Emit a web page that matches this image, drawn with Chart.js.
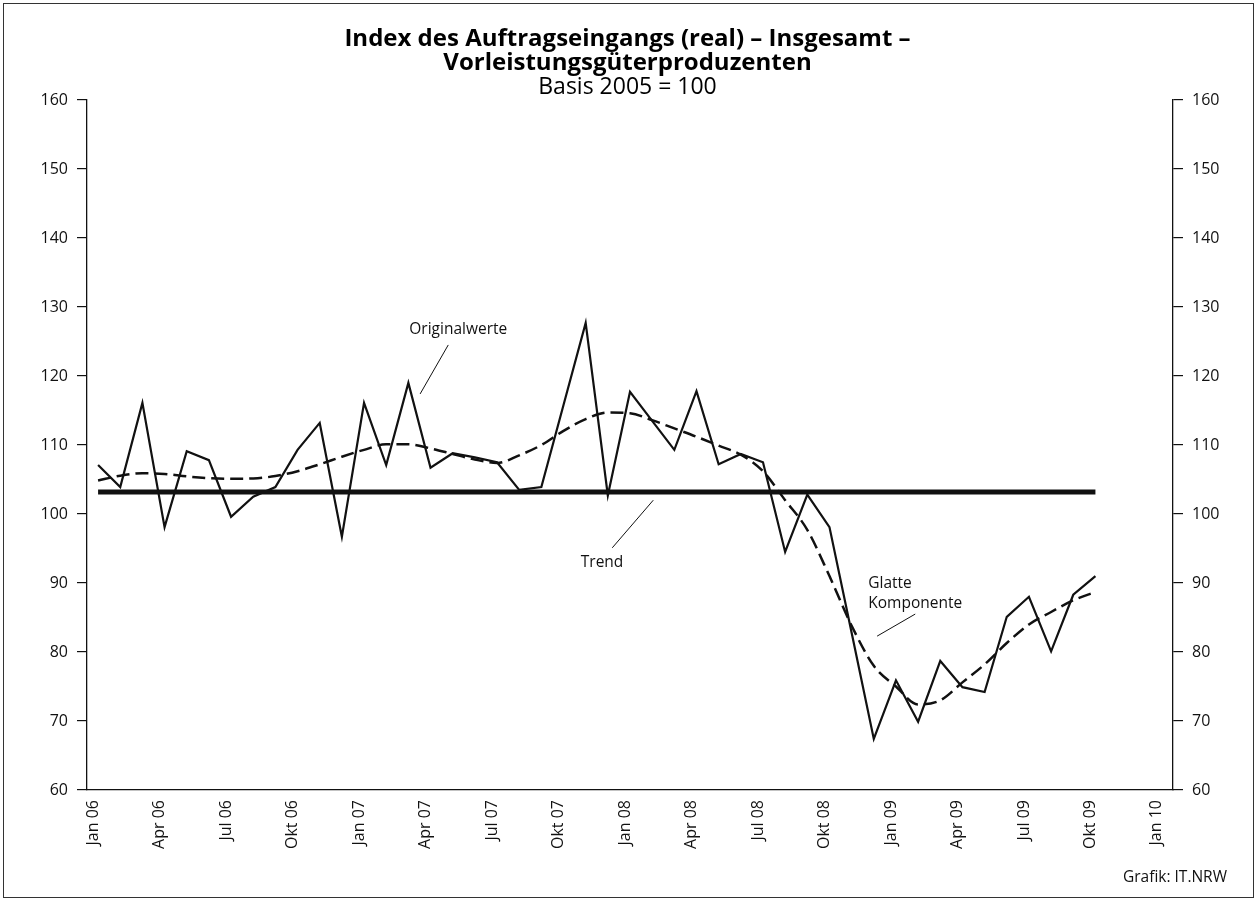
<!DOCTYPE html>
<html><head><meta charset="utf-8">
<script src="https://cdn.jsdelivr.net/npm/chart.js@4.4.1/dist/chart.umd.min.js"></script>
<style>
html,body{margin:0;padding:0;background:#fff;}
#wrap{position:relative;width:1255px;height:899px;overflow:hidden}
#frame{position:absolute;left:3px;top:3px;width:1251px;height:895px;border:1.5px solid #333;box-sizing:border-box;pointer-events:none}
canvas{position:absolute;left:0;top:0}
</style></head>
<body><div id="wrap"><canvas id="c" width="1255" height="899"></canvas><div id="frame"></div></div>
<script>
// ---- data ----
const categories = [
 'Jan 06','Feb 06','Mrz 06','Apr 06','Mai 06','Jun 06','Jul 06','Aug 06','Sep 06','Okt 06','Nov 06','Dez 06',
 'Jan 07','Feb 07','Mrz 07','Apr 07','Mai 07','Jun 07','Jul 07','Aug 07','Sep 07','Okt 07','Nov 07','Dez 07',
 'Jan 08','Feb 08','Mrz 08','Apr 08','Mai 08','Jun 08','Jul 08','Aug 08','Sep 08','Okt 08','Nov 08','Dez 08',
 'Jan 09','Feb 09','Mrz 09','Apr 09','Mai 09','Jun 09','Jul 09','Aug 09','Sep 09','Okt 09','Nov 09','Dez 09',
 'Jan 10'];
const tickLabels = ['Jan 06','Apr 06','Jul 06','Okt 06','Jan 07','Apr 07','Jul 07','Okt 07','Jan 08','Apr 08','Jul 08','Okt 08','Jan 09','Apr 09','Jul 09','Okt 09','Jan 10'];
const originalwerte = [107.1,103.9,116.1,98.1,109.1,107.8,99.6,102.5,103.9,109.3,113.2,96.7,
 116.1,107.1,119.0,106.7,108.8,108.2,107.5,103.5,103.9,115.8,127.7,102.7,
 117.7,113.5,109.3,117.8,107.2,108.7,107.5,94.5,102.8,98.1,82.8,67.4,
 75.9,69.9,78.7,74.9,74.2,85.1,88.0,80.1,88.3,91.0];
const glatteKomponente = [104.85,105.55,105.9,105.8,105.45,105.2,105.1,105.15,105.5,106.2,107.2,108.3,
 109.3,110.1,110.1,109.5,108.7,107.9,107.4,108.5,110.0,112.05,113.75,114.7,
 114.6,113.6,112.4,111.2,109.9,108.6,106.2,102.0,97.7,91.0,83.8,78.0,
 75.0,72.4,73.0,75.6,78.2,81.3,84.0,85.8,87.5,88.7];
const trend = [103.2,103.2,103.2,103.2,103.2,103.2,103.2,103.2,103.2,103.2,103.2,103.2,
 103.2,103.2,103.2,103.2,103.2,103.2,103.2,103.2,103.2,103.2,103.2,103.2,
 103.2,103.2,103.2,103.2,103.2,103.2,103.2,103.2,103.2,103.2,103.2,103.2,
 103.2,103.2,103.2,103.2,103.2,103.2,103.2,103.2,103.2,103.2];
const yTicks = [60,70,80,90,100,110,120,130,140,150,160];

const FONT = "'Open Sans', 'DejaVu Sans', sans-serif";
const INK = '#111';

// annotation labels (positions in data units: category index / index value)
const notes = [
  {lines:['Originalwerte'], x:16.25, y:126.7, align:'center', leader:[15.8,124.5,14.53,117.4]},
  {lines:['Trend'], x:22.74, y:92.9, align:'center', leader:[25.05,102.0,23.2,95.1]},
  {lines:['Glatte','Komponente'], x:34.75, y:89.9, align:'left', leader:[36.87,85.5,35.15,82.3]}
];

const notesPlugin = {
  id:'notes',
  afterDatasetsDraw(chart){
    const {ctx, scales:{x,y}} = chart;
    ctx.save();
    ctx.fillStyle = INK; ctx.strokeStyle = INK;
    ctx.font = "15.5px " + FONT;
    ctx.textBaseline = 'middle';
    notes.forEach(n=>{
      ctx.textAlign = n.align;
      const px = x.getPixelForValue(n.x), py = y.getPixelForValue(n.y);
      n.lines.forEach((t,i)=>ctx.fillText(t, px, py + i*20));
      ctx.lineWidth = 1;
      ctx.beginPath();
      ctx.moveTo(x.getPixelForValue(n.leader[0]), y.getPixelForValue(n.leader[1]));
      ctx.lineTo(x.getPixelForValue(n.leader[2]), y.getPixelForValue(n.leader[3]));
      ctx.stroke();
    });
    ctx.font = "15.5px " + FONT;
    ctx.textAlign = 'right';
    ctx.fillText('Grafik: IT.NRW', chart.width - 28, chart.height - 21);
    ctx.restore();
  }
};

const yAxisBase = (pos) => ({
  type:'linear', position:pos, min:60, max:160,
  afterBuildTicks(s){ s.ticks = yTicks.map(v=>({value:v})); },
  grid:{drawOnChartArea:false, drawTicks:true, tickLength:10, color:INK, lineWidth:1.2},
  border:{display:true, color:INK, width:1.3},
  ticks:{color:INK, font:{family:FONT, size:16}, padding:9}
});

new Chart(document.getElementById('c'), {
  type:'line',
  data:{
    labels: categories,
    datasets:[
      {label:'Trend', data:trend, borderColor:INK, borderWidth:5, pointRadius:0, tension:0, order:3},
      {label:'Glatte Komponente', data:glatteKomponente, borderColor:INK, borderWidth:2.5, borderDash:[13,6], pointRadius:0, tension:0.4, cubicInterpolationMode:'monotone', order:2},
      {label:'Originalwerte', data:originalwerte, borderColor:INK, borderWidth:2.2, pointRadius:0, tension:0, order:1}
    ]
  },
  options:{
    responsive:false, animation:false,
    layout:{padding:0},
    plugins:{
      legend:{display:false}, tooltip:{enabled:false},
      title:{display:true, text:['Index des Auftragseingangs (real) – Insgesamt –','Vorleistungsgüterproduzenten'],
        color:'#000', font:{family:FONT, size:24, weight:'bold', lineHeight:1.0}, padding:{top:27,bottom:1}},
      subtitle:{display:true, text:'Basis 2005 = 100', color:'#000', font:{family:FONT, size:23, weight:'normal', lineHeight:1.0}, padding:{top:0,bottom:1}}
    },
    scales:{
      x:{
        type:'category', offset:true,
        afterFit(s){ s.height = 109; },
        grid:{display:false, drawTicks:false},
        border:{display:true, color:INK, width:1.3},
        ticks:{autoSkip:false, maxRotation:90, minRotation:90, padding:10, labelOffset:-5,
          color:INK, font:{family:FONT, size:16},
          callback(v, i){ const l = categories[i]; return tickLabels.includes(l) ? l : ''; }}
      },
      y: Object.assign(yAxisBase('left'), {afterFit(s){ s.width = 87; }}),
      y2: Object.assign(yAxisBase('right'), {afterFit(s){ s.width = 82; }})
    }
  },
  plugins:[notesPlugin]
});
</script>
</body></html>
